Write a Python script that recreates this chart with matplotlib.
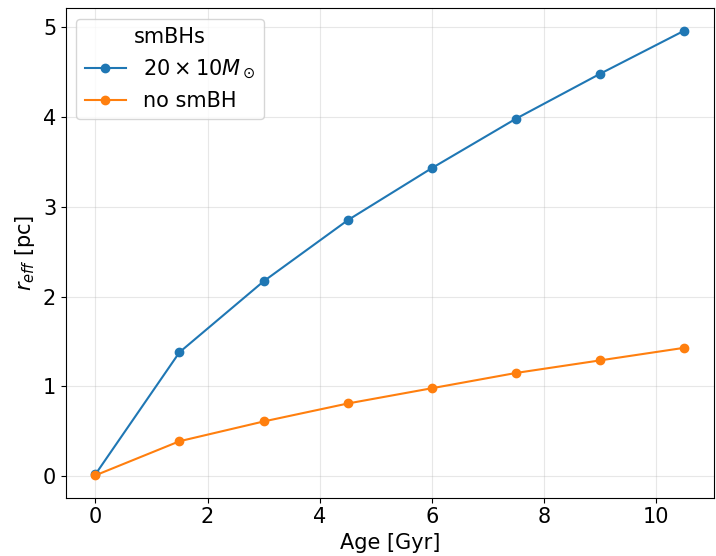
import matplotlib
matplotlib.use("Agg")
import matplotlib.pyplot as plt

age = [0, 1.5, 3, 4.5, 6, 7.5, 9, 10.5]
r_eff_smbh = [0.02, 1.38, 2.17, 2.85, 3.43, 3.98, 4.48, 4.96]
r_eff_none = [0.01, 0.39, 0.61, 0.81, 0.98, 1.15, 1.29, 1.43]

plt.rcParams["font.size"] = 15

fig, ax = plt.subplots(figsize=(7.16, 5.56), dpi=100)
ax.plot(age, r_eff_smbh, "o-", color="#1f77b4", label=r"$20\times10M_\odot$")
ax.plot(age, r_eff_none, "o-", color="#ff7f0e", label="no smBH")
ax.set_xlabel("Age [Gyr]")
ax.set_ylabel(r"$r_{eff}$ [pc]")
ax.grid(alpha=0.3)
ax.legend(title="smBHs", loc="upper left", fontsize=15, title_fontsize=15)
fig.subplots_adjust(left=0.092, right=0.997, top=0.985, bottom=0.105)
fig.savefig("out.png")
